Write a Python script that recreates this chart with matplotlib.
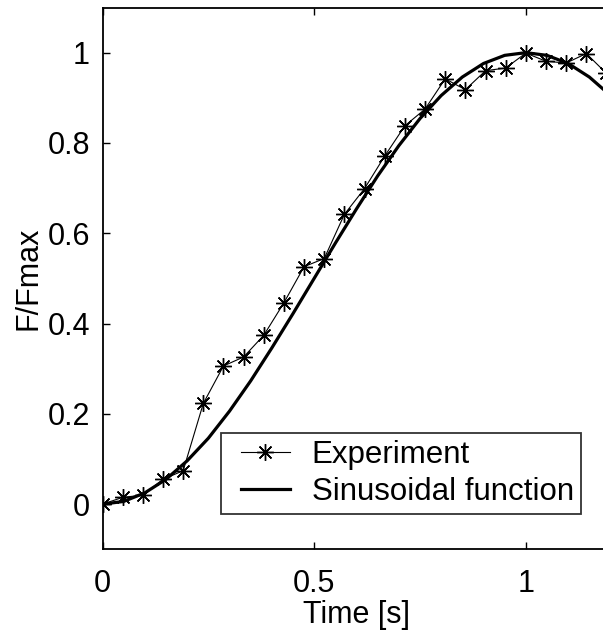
import matplotlib
matplotlib.use("Agg")
import matplotlib.pyplot as plt
from matplotlib.legend_handler import HandlerLine2D

plt.rcParams['font.family'] = ['Liberation Sans', 'DejaVu Sans']

# Experiment samples (t = k/21 s)
exp_t = [0/21, 1/21, 2/21, 3/21, 4/21, 5/21, 6/21, 7/21, 8/21, 9/21, 10/21, 11/21, 12/21,
         13/21, 14/21, 15/21, 16/21, 17/21, 18/21, 19/21, 20/21, 21/21, 22/21, 23/21, 24/21, 25/21]
exp_f = [0.0, 0.015, 0.02, 0.055, 0.074, 0.223, 0.306, 0.326, 0.374, 0.446, 0.526, 0.544, 0.642,
         0.699, 0.771, 0.838, 0.875, 0.942, 0.918, 0.960, 0.966, 0.999, 0.981, 0.977, 0.998, 0.954]

# Sinusoidal reference curve values
sin_t = [0.0, 0.05, 0.10, 0.15, 0.20, 0.25, 0.30, 0.35, 0.40, 0.45, 0.50, 0.55, 0.60,
         0.65, 0.70, 0.75, 0.80, 0.85, 0.90, 0.95, 1.00, 1.05, 1.10, 1.15, 1.20, 1.25]
sin_f = [0.0, 0.006, 0.025, 0.055, 0.096, 0.146, 0.206, 0.273, 0.346, 0.422, 0.5, 0.578, 0.654,
         0.727, 0.794, 0.854, 0.905, 0.946, 0.976, 0.994, 1.0, 0.994, 0.976, 0.946, 0.905, 0.854]

xticks = [0, 0.5, 1]
yticks = [0, 0.2, 0.4, 0.6, 0.8, 1]

W, H = 603, 631
fig = plt.figure(figsize=(W / 100, H / 100), dpi=100)
ax = fig.add_axes([102.5 / W, (H - 549.3) / H, 508 / W, (549.3 - 7.5) / H])

ax.plot(exp_t, exp_f, color='black', lw=0.8, marker=(8, 2, 0), markersize=12,
        markeredgewidth=1.0, label='Experiment')
ax.plot(sin_t, sin_f, color='black', lw=2.3, label='Sinusoidal function')

ax.set_xlim(0, 1.2)
ax.set_ylim(-0.1, 1.1)
ax.set_xticks(xticks)
ax.set_xticklabels(['0', '0.5', '1'])
ax.set_yticks(yticks)
ax.set_yticklabels(['0', '0.2', '0.4', '0.6', '0.8', '1'])
ax.tick_params(direction='in', length=5, width=1, labelsize=22, top=True, right=True)
ax.tick_params(axis='x', pad=14)
ax.tick_params(axis='y', pad=9)
for s in ax.spines.values():
    s.set_linewidth(1.3)

ax.set_xlabel('Time [s]', fontsize=22, labelpad=1)
ax.set_ylabel('F/Fmax', fontsize=22, labelpad=3)


class ShiftedHandler(HandlerLine2D):
    def __init__(self, shift, **kw):
        super().__init__(**kw)
        self.shift = shift

    def create_artists(self, legend, orig_handle, xdescent, ydescent, width, height,
                       fontsize, trans):
        return super().create_artists(legend, orig_handle, xdescent - self.shift, ydescent,
                                      width - self.shift, height, fontsize, trans)


h1, h2 = ax.get_lines()
leg = ax.legend(loc='lower left', bbox_to_anchor=(220.7 / W, (H - 514) / H),
                bbox_transform=fig.transFigure, fontsize=22.5, frameon=True, fancybox=False,
                edgecolor='black', borderaxespad=0, handlelength=2.0, handletextpad=0.69,
                borderpad=0.22, labelspacing=0.23,
                handler_map={h1: ShiftedHandler(9.4, numpoints=1),
                             h2: ShiftedHandler(9.4)})
leg.get_frame().set_linewidth(1.3)

fig.savefig('out.png', dpi=100)
